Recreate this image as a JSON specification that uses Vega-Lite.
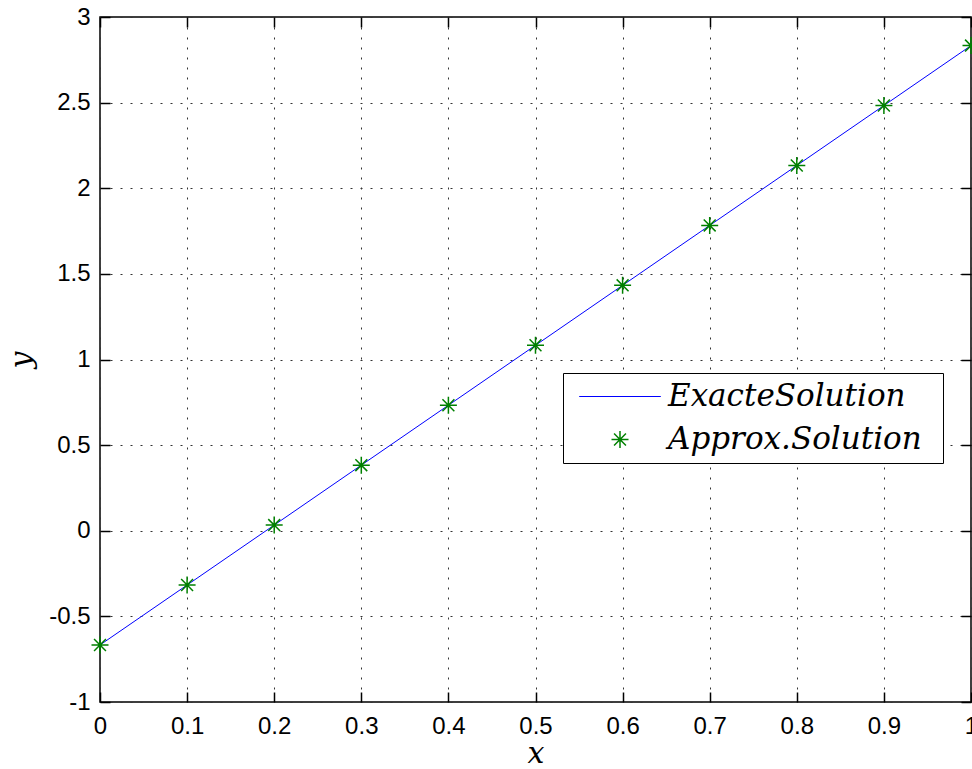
{
  "$schema": "https://vega.github.io/schema/vega-lite/v6.json",
  "width": 871,
  "height": 685,
  "autosize": {"type": "none"},
  "padding": {"left": 100, "top": 17, "right": 1, "bottom": 67},
  "background": "white",
  "config": {
    "view": {"stroke": "#000", "strokeWidth": 1.5},
    "axis": {
      "domain": false,
      "tickSize": -10,
      "tickColor": "#000",
      "tickWidth": 1.5,
      "labelFont": "Liberation Sans",
      "labelFontSize": 24,
      "labelColor": "#000",
      "labelFlush": false,
      "labelOverlap": false,
      "gridColor": "#333",
      "gridDash": [2, 8],
      "gridWidth": 1,
      "gridOpacity": 1,
      "titleFont": "DejaVu Serif",
      "titleFontStyle": "italic",
      "titleFontWeight": "normal",
      "titleFontSize": 30,
      "titleColor": "#000"
    }
  },
  "data": {
    "values": [
      {"x": 0.0, "y": -0.667, "series": "ExacteSolution"},
      {"x": 0.1, "y": -0.317, "series": "ExacteSolution"},
      {"x": 0.2, "y": 0.033, "series": "ExacteSolution"},
      {"x": 0.3, "y": 0.383, "series": "ExacteSolution"},
      {"x": 0.4, "y": 0.733, "series": "ExacteSolution"},
      {"x": 0.5, "y": 1.083, "series": "ExacteSolution"},
      {"x": 0.6, "y": 1.433, "series": "ExacteSolution"},
      {"x": 0.7, "y": 1.783, "series": "ExacteSolution"},
      {"x": 0.8, "y": 2.133, "series": "ExacteSolution"},
      {"x": 0.9, "y": 2.483, "series": "ExacteSolution"},
      {"x": 1.0, "y": 2.833, "series": "ExacteSolution"},
      {"x": 0.0, "y": -0.667, "series": "Approx.Solution"},
      {"x": 0.1, "y": -0.317, "series": "Approx.Solution"},
      {"x": 0.2, "y": 0.033, "series": "Approx.Solution"},
      {"x": 0.3, "y": 0.383, "series": "Approx.Solution"},
      {"x": 0.4, "y": 0.733, "series": "Approx.Solution"},
      {"x": 0.5, "y": 1.083, "series": "Approx.Solution"},
      {"x": 0.6, "y": 1.433, "series": "Approx.Solution"},
      {"x": 0.7, "y": 1.783, "series": "Approx.Solution"},
      {"x": 0.8, "y": 2.133, "series": "Approx.Solution"},
      {"x": 0.9, "y": 2.483, "series": "Approx.Solution"},
      {"x": 1.0, "y": 2.833, "series": "Approx.Solution"}
    ]
  },
  "layer": [
    {
      "transform": [{"filter": "datum.series === 'ExacteSolution'"}],
      "mark": {"type": "line", "strokeWidth": 1, "clip": false},
      "encoding": {
        "x": {
          "field": "x", "type": "quantitative",
          "scale": {"domain": [0, 1], "nice": false, "zero": false},
          "axis": {"orient": "bottom", "title": "x", "values": [0, 0.1, 0.2, 0.3, 0.4, 0.5, 0.6, 0.7, 0.8, 0.9, 1], "labelExpr": "toString(datum.value)", "grid": true, "labelPadding": 22, "titlePadding": 0}
        },
        "y": {
          "field": "y", "type": "quantitative",
          "scale": {"domain": [-1, 3], "nice": false, "zero": false},
          "axis": {"orient": "left", "title": "y", "values": [-1, -0.5, 0, 0.5, 1, 1.5, 2, 2.5, 3], "labelExpr": "toString(datum.value)", "grid": true, "labelPadding": 20, "titlePadding": 12}
        },
        "color": {
          "field": "series", "type": "nominal",
          "scale": {"domain": ["ExacteSolution", "Approx.Solution"], "range": ["#0000ff", "#008000"]},
          "legend": {
            "orient": "none", "legendX": 463, "legendY": 356,
            "title": "\u00a0",
            "titleOrient": "right",
            "titleFontSize": 10,
            "titlePadding": 13,
            "strokeColor": "#000", "fillColor": "#fff",
            "padding": 8,
            "labelFont": "DejaVu Serif", "labelFontStyle": "italic", "labelFontSize": 31, "labelColor": "#000",
            "labelLimit": 400,
            "symbolSize": 289,
            "symbolOffset": 33.5,
            "labelOffset": 32.5,
            "rowPadding": 11,
            "encode": {
              "symbols": {
                "update": {
                  "shape": {"signal": "datum.value === 'ExacteSolution' ? 'M-4.8,0L4.8,0' : 'M-1,0L1,0M0,-1L0,1M-0.7,-0.7L0.7,0.7M-0.7,0.7L0.7,-0.7'"},
                  "fill": {"value": "transparent"},
                  "strokeWidth": {"signal": "datum.value === 'ExacteSolution' ? 1 : 1.5"},
                  "size": {"value": 289},
                  "opacity": {"value": 1}
                }
              }
            }
          }
        }
      }
    },
    {
      "transform": [{"filter": "datum.series === 'Approx.Solution'"}],
      "mark": {"type": "point", "shape": "M-1,0L1,0M0,-1L0,1M-0.7,-0.7L0.7,0.7M-0.7,0.7L0.7,-0.7", "filled": false, "size": 289, "strokeWidth": 1.5, "opacity": 1, "clip": false},
      "encoding": {
        "x": {
          "field": "x", "type": "quantitative",
          "axis": {"orient": "top", "title": null, "values": [0, 0.1, 0.2, 0.3, 0.4, 0.5, 0.6, 0.7, 0.8, 0.9, 1], "labels": false, "grid": false}
        },
        "y": {
          "field": "y", "type": "quantitative",
          "axis": {"orient": "right", "title": null, "values": [-1, -0.5, 0, 0.5, 1, 1.5, 2, 2.5, 3], "labels": false, "grid": false}
        },
        "color": {"field": "series", "type": "nominal"}
      }
    }
  ],
  "resolve": {"axis": {"x": "independent", "y": "independent"}}
}
